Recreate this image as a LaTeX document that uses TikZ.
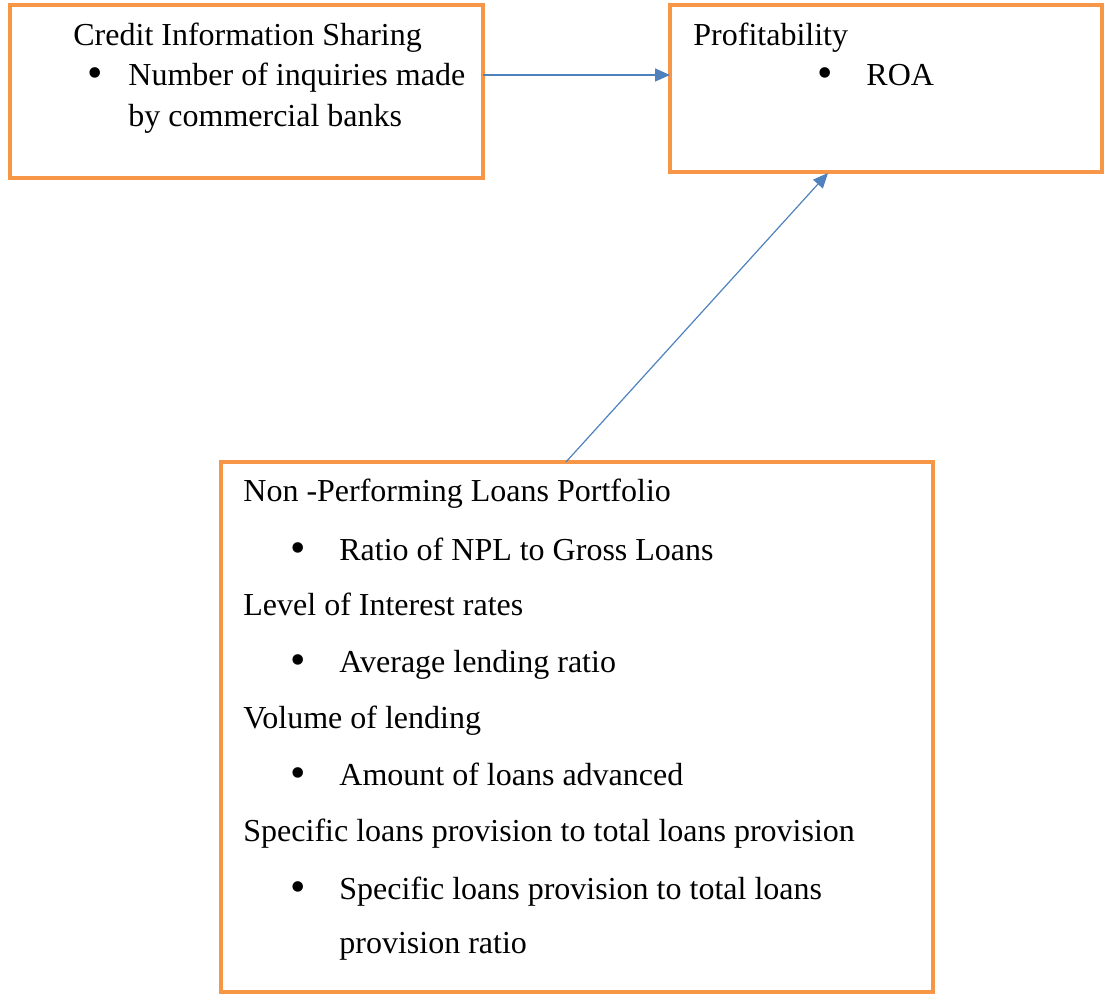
\documentclass[tikz,border=0pt]{standalone}
\usepackage{fontspec}
\setmainfont{Liberation Serif}
\usetikzlibrary{arrows.meta}
\definecolor{boxorange}{HTML}{F79646}
\definecolor{arrowblue}{HTML}{4F81BD}
\tikzset{
  frame/.style={draw=boxorange, line width=2pt, fill=white},
  txt/.style={anchor=base west, inner sep=0pt, font=\fontsize{16}{19}\selectfont},
  bul/.style={anchor=base, inner sep=0pt, font=\fontsize{22}{24}\selectfont},
  link/.style={draw=arrowblue, line width=0.6pt, -{Triangle[length=7.5pt,width=6.5pt]}}
}
\begin{document}
\begin{tikzpicture}[x=0.5pt,y=-0.5pt]
\useasboundingbox (0,0) rectangle (1104,994);
% boxes
\draw[frame] (10,5) rectangle (483,178);
\draw[frame] (670,5) rectangle (1102,172);
\draw[frame] (221,462) rectangle (933,992);
\coordinate (aR) at (483,75);
\coordinate (bL) at (670,75);
\coordinate (cT) at (566,462);
\coordinate (bB) at (828,173);
% box A text
\node[txt] (a1) at (73,46) {Credit Information Sharing};
\node[bul] (ab) at (95,88) {\textbullet};
\node[txt] (a2) at (128,86) {Number of inquiries made};
\node[txt] (a3) at (128,127) {by commercial banks};
% box B text
\node[txt] (b1) at (693,46) {Profitability};
\node[bul] (bb) at (825,88) {\textbullet};
\node[txt] (b2) at (866,86) {ROA};
% box C text
\node[txt] (c1) at (243,502) {Non -Performing Loans Portfolio};
\node[bul] (cb1) at (298,563) {\textbullet};
\node[txt] (c2) at (339,561) {Ratio of NPL to Gross Loans};
\node[txt] (c3) at (243,616) {Level of Interest rates};
\node[bul] (cb2) at (298,675) {\textbullet};
\node[txt] (c4) at (339,673) {Average lending ratio};
\node[txt] (c5) at (243,728) {Volume of lending};
\node[bul] (cb3) at (298,787) {\textbullet};
\node[txt] (c6) at (339,785) {Amount of loans advanced};
\node[txt] (c7) at (243,841) {Specific loans provision to total loans provision};
\node[bul] (cb4) at (298,901) {\textbullet};
\node[txt] (c8) at (339,899) {Specific loans provision to total loans};
\node[txt] (c9) at (339,953) {provision ratio};
% connectors
\draw[link] (aR) -- (bL);
\draw[link] (cT) -- (bB);
\end{tikzpicture}
\end{document}
